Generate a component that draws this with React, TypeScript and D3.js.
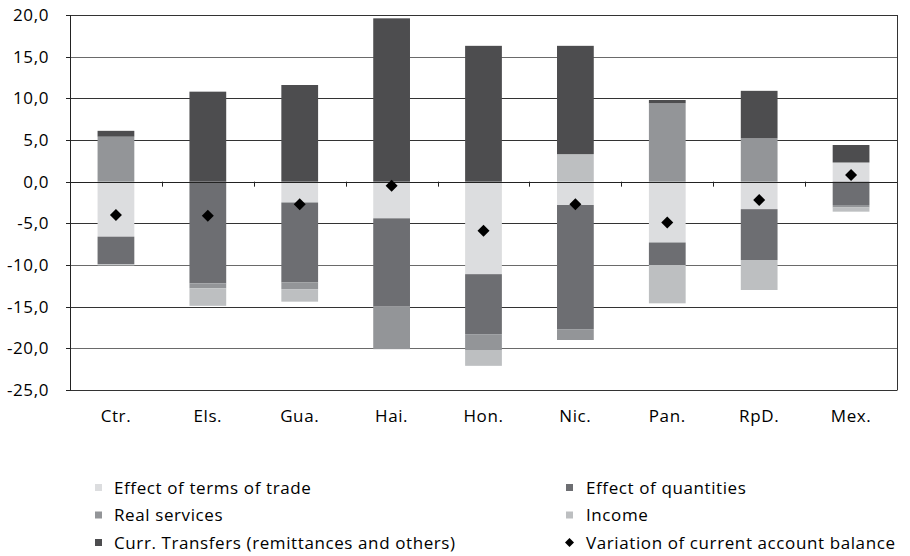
import React from "react";
import * as d3 from "d3";

const categories = ["Ctr.", "Els.", "Gua.", "Hai.", "Hon.", "Nic.", "Pan.", "RpD.", "Mex."];
const termsOfTrade = [-6.6, 0, -2.5, -4.4, -11.1, -2.8, -7.3, -3.3, 2.3];
const quantities = [-3.3, -12.2, -9.6, -10.6, -7.2, -14.9, -2.7, -6.1, -2.8];
const realServices = [5.4, -0.6, -0.8, -5.1, -1.9, -1.3, 9.4, 5.2, -0.3];
const income = [-0.15, -2.1, -1.5, 0, -1.9, 3.3, -4.6, -3.6, -0.5];
const transfers = [0.7, 10.8, 11.6, 19.6, 16.3, 13.0, 0.4, 5.7, 2.1];
const variation = [-4.0, -4.1, -2.7, -0.5, -5.9, -2.7, -4.9, -2.2, 0.8];
const yTicks = [20, 15, 10, 5, 0, -5, -10, -15, -20, -25];

const seriesKeys = ["terms", "quantities", "services", "income", "transfers"];
const seriesLabels = [
  "Effect of terms of trade",
  "Effect of quantities",
  "Real services",
  "Income",
  "Curr. Transfers (remittances and others)",
];
const seriesColors = ["#dcdddf", "#6d6e72", "#939598", "#bdbfc1", "#4d4d4f"];
const variationLabel = "Variation of current account balance";

const FONT = "'Open Sans', 'Noto Sans', sans-serif";
const FS = 17;
const LS = 0.6;

export default function App() {
  const W = 910;
  const H = 556;
  const left = 70;
  const right = 897;
  const top = 15;
  const bottom = 390;

  const x = d3.scaleBand<string>().domain(categories).range([left, right]).paddingInner(0.6).paddingOuter(0.3);
  const y = d3.scaleLinear().domain([-25, 20]).range([bottom, top]);

  const rows = categories.map((c, i) => ({
    cat: c,
    terms: termsOfTrade[i],
    quantities: quantities[i],
    services: realServices[i],
    income: income[i],
    transfers: transfers[i],
  }));
  const stacked = d3
    .stack<any>()
    .keys(seriesKeys)
    .offset(d3.stackOffsetDiverging)(rows);

  const step = x.step();
  const boundaries = d3.range(categories.length + 1).map((i) => left + i * step);

  const diamond = (cx: number, cy: number, r: number) =>
    `M${cx},${cy - r}L${cx + r},${cy}L${cx},${cy + r}L${cx - r},${cy}Z`;

  const legendItems = [
    { label: seriesLabels[0], color: seriesColors[0], col: 0, row: 0 },
    { label: seriesLabels[2], color: seriesColors[2], col: 0, row: 1 },
    { label: seriesLabels[4], color: seriesColors[4], col: 0, row: 2 },
    { label: seriesLabels[1], color: seriesColors[1], col: 1, row: 0 },
    { label: seriesLabels[3], color: seriesColors[3], col: 1, row: 1 },
  ];
  const colX = [95, 566];
  const textX = [114, 586];
  const rowY = [493.5, 521, 548.5];

  return (
    <svg
      width={W}
      height={H}
      style={{ position: "absolute", left: 0, top: 0, background: "#fff" }}
      fontFamily={FONT}
    >
      {/* gridlines */}
      {yTicks.map((t) => (
        <line
          key={t}
          x1={left}
          x2={right}
          y1={Math.round(y(t)) + 0.5}
          y2={Math.round(y(t)) + 0.5}
          stroke={t === 15 || t === -10 || t === -20 ? "#6a6a6a" : "#333"}
          strokeWidth={1}
        />
      ))}
      {/* bars */}
      {stacked.map((s, si) =>
        s.map((d, i) => {
          const y0 = y(d[0]);
          const y1 = y(d[1]);
          const h = Math.abs(y0 - y1);
          if (h <= 0) return null;
          return (
            <rect
              key={`${si}-${i}`}
              x={x(categories[i])}
              y={Math.min(y0, y1)}
              width={x.bandwidth()}
              height={h}
              fill={seriesColors[si]}
            />
          );
        })
      )}
      {/* zero line over bars */}
      <line x1={left} x2={right} y1={Math.round(y(0)) + 0.5} y2={Math.round(y(0)) + 0.5} stroke="#222" strokeWidth={1} />
      {/* category ticks at zero line */}
      {boundaries.map((bx, i) => (
        <line key={i} x1={Math.round(bx) + 0.5} x2={Math.round(bx) + 0.5} y1={y(0)} y2={y(0) + 5} stroke="#222" />
      ))}
      {/* left axis */}
      <line x1={left + 0.5} x2={left + 0.5} y1={top} y2={bottom + 0.5} stroke="#222" />
      {yTicks.map((t) => (
        <line key={t} x1={left - 4} x2={left} y1={Math.round(y(t)) + 0.5} y2={Math.round(y(t)) + 0.5} stroke="#222" />
      ))}
      {/* right border */}
      <line x1={right + 0.5} x2={right + 0.5} y1={top} y2={bottom + 0.5} stroke="#333" />
      {/* diamonds */}
      {variation.map((v, i) => (
        <path key={i} d={diamond(x(categories[i])! + x.bandwidth() / 2, y(v), 6)} fill="#000" />
      ))}
      {/* y labels */}
      {yTicks.map((t) => (
        <text key={t} x={49} y={y(t)} dy="0.35em" textAnchor="end" fontSize={FS} letterSpacing={LS} fill="#000">
          {t.toFixed(1).replace(".", ",")}
        </text>
      ))}
      {/* x labels */}
      {categories.map((c) => (
        <text key={c} x={x(c)! + x.bandwidth() / 2} y={421.5} textAnchor="middle" fontSize={FS} letterSpacing={LS} fill="#000">
          {c}
        </text>
      ))}
      {/* legend */}
      {legendItems.map((it) => (
        <g key={it.label}>
          <rect x={colX[it.col]} y={rowY[it.row] - 9.5} width={7} height={7} fill={it.color} />
          <text x={textX[it.col]} y={rowY[it.row]} fontSize={FS} letterSpacing={LS} fill="#000">
            {it.label}
          </text>
        </g>
      ))}
      <path d={diamond(colX[1] + 3.5, rowY[2] - 6, 4.5)} fill="#000" />
      <text x={textX[1]} y={rowY[2]} fontSize={FS} letterSpacing={LS} fill="#000">
        {variationLabel}
      </text>
    </svg>
  );
}
